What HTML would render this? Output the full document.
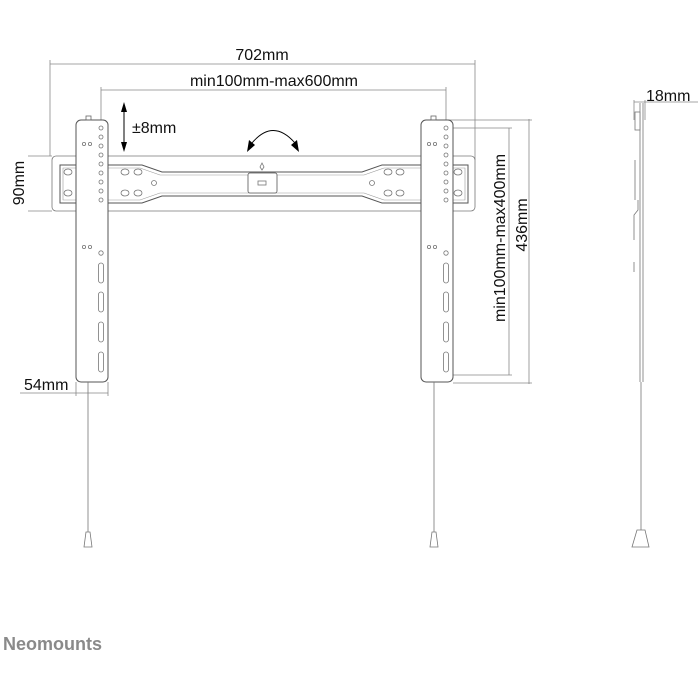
<!DOCTYPE html>
<html><head><style>
html,body{margin:0;padding:0;background:#fff;}
svg{display:block;font-family:"Liberation Sans","DejaVu Sans",sans-serif;}
</style></head><body>
<svg width="700" height="700" viewBox="0 0 700 700" xmlns="http://www.w3.org/2000/svg">
<defs>
<g id="arm">
  <rect x="0" y="0" width="32" height="262" rx="5" fill="#fff" stroke="#555" stroke-width="1"/>
  <rect x="10" y="-4" width="5" height="4" fill="none" stroke="#666" stroke-width="0.8"/>
  <g fill="none" stroke="#777" stroke-width="0.8">
    <circle cx="25" cy="8" r="2"/><circle cx="25" cy="17" r="2"/><circle cx="25" cy="26" r="2"/>
    <circle cx="25" cy="35" r="2"/><circle cx="25" cy="44" r="2"/><circle cx="25" cy="53" r="2"/>
    <circle cx="25" cy="62" r="2"/><circle cx="25" cy="71" r="2"/><circle cx="25" cy="80" r="2"/>
    <circle cx="8" cy="24" r="1.6"/><circle cx="14" cy="24" r="1.6"/>
    <circle cx="8" cy="127" r="1.6"/><circle cx="14" cy="127" r="1.6"/>
    <circle cx="25" cy="133" r="2.2"/>
    <rect x="22.5" y="143" width="5" height="20" rx="2.5"/>
    <rect x="22.5" y="172" width="5" height="20" rx="2.5"/>
    <rect x="22.5" y="202" width="5" height="20" rx="2.5"/>
    <rect x="22.5" y="232" width="5" height="20" rx="2.5"/>
  </g>
</g>
</defs>
<g stroke="#888" stroke-width="0.8" fill="none">
  <line x1="50" y1="64" x2="475" y2="64"/>
  <line x1="50" y1="60" x2="50" y2="156"/>
  <line x1="475" y1="60" x2="475" y2="160"/>
  <line x1="101" y1="90" x2="446" y2="90"/>
  <line x1="101" y1="87" x2="101" y2="122"/>
  <line x1="446" y1="87" x2="446" y2="122"/>
  <line x1="28" y1="156" x2="52" y2="156"/>
  <line x1="28" y1="211" x2="52" y2="211"/>
  <line x1="446" y1="120" x2="532" y2="120"/>
  <line x1="446" y1="128" x2="512" y2="128"/>
  <line x1="529" y1="119" x2="529" y2="384"/>
  <line x1="509" y1="128" x2="509" y2="375"/>
  <line x1="446" y1="375" x2="512" y2="375"/>
  <line x1="453" y1="383" x2="532" y2="383"/>
  <line x1="20" y1="393" x2="108" y2="393"/>
  <line x1="76" y1="382" x2="76" y2="396"/>
  <line x1="108" y1="382" x2="108" y2="396"/>
  <line x1="634" y1="102" x2="698" y2="102"/>
  <line x1="634" y1="100" x2="634" y2="120"/>
  <line x1="645" y1="100" x2="645" y2="120"/>
</g>
<rect x="52" y="156" width="423" height="55" rx="4" fill="#fff" stroke="#777" stroke-width="0.8"/>
<path d="M60 165 H142 L162 172 H362 L382 165 H468 V203 H382 L362 196 H162 L142 203 H60 Z" fill="none" stroke="#555" stroke-width="1"/>
<path d="M63 168 H140 L160 175 H364 L384 168 H465 V200 H384 L364 193 H160 L140 200 H63 Z" fill="none" stroke="#999" stroke-width="0.6"/>
<g fill="none" stroke="#777" stroke-width="0.8">
  <ellipse cx="68" cy="172" rx="4" ry="3"/><ellipse cx="68" cy="193" rx="4" ry="3"/>
  <ellipse cx="125" cy="172" rx="4" ry="3"/><ellipse cx="138" cy="172" rx="4" ry="3"/>
  <ellipse cx="125" cy="193" rx="4" ry="3"/><ellipse cx="138" cy="193" rx="4" ry="3"/>
  <circle cx="154" cy="183" r="2.5"/><circle cx="372" cy="183" r="2.5"/>
  <ellipse cx="388" cy="172" rx="4" ry="3"/><ellipse cx="400" cy="172" rx="4" ry="3"/>
  <ellipse cx="388" cy="193" rx="4" ry="3"/><ellipse cx="400" cy="193" rx="4" ry="3"/>
  <ellipse cx="458" cy="172" rx="4" ry="3"/><ellipse cx="458" cy="193" rx="4" ry="3"/>
  <rect x="248" y="173" width="29" height="20" rx="2" stroke="#555" fill="#fff"/>
  <rect x="258" y="181" width="8" height="4"/>
  <path d="M262 163 l-2 4 l2 3 l2 -3 Z"/>
</g>
<use href="#arm" x="76" y="120"/>
<use href="#arm" x="421" y="120"/>
<line x1="124" y1="108" x2="124" y2="146" stroke="#000" stroke-width="1"/>
<path d="M124 102 L121 112 L127 112 Z M124 152 L121 142 L127 142 Z" fill="#000"/>
<path d="M252 143 Q273 118 295 143" fill="none" stroke="#000" stroke-width="0.9"/>
<path d="M247 152 L249 140 L255 145 Z M299 152 L297 140 L291 145 Z" fill="#000"/>
<g stroke="#777" stroke-width="0.8" fill="#fff">
  <line x1="88" y1="382" x2="88" y2="532"/>
  <line x1="434" y1="382" x2="434" y2="532"/>
  <path d="M86 532 H90 L92 547 H84 Z"/>
  <path d="M432 532 H436 L438 547 H430 Z"/>
  <line x1="640" y1="103" x2="640" y2="382" />
  <line x1="643" y1="103" x2="643" y2="382"/>
  <rect x="635" y="112" width="5" height="18"/>
  <path d="M635 160 V200 M638 200 V210 L634 215 V240 M634 262 V272"/>
  <line x1="641" y1="382" x2="641" y2="530"/>
  <path d="M637 530 H645 L649 547 H632 Z"/>
</g>
<g fill="#111" font-size="16">
  <text x="262" y="60" text-anchor="middle">702mm</text>
  <text x="274" y="86" text-anchor="middle">min100mm-max600mm</text>
  <text x="132" y="133">±8mm</text>
  <text x="24" y="390">54mm</text>
  <text x="646" y="101">18mm</text>
  <text transform="translate(24,183) rotate(-90)" text-anchor="middle">90mm</text>
  <text transform="translate(505,238) rotate(-90)" text-anchor="middle">min100mm-max400mm</text>
  <text transform="translate(527,225) rotate(-90)" text-anchor="middle">436mm</text>
</g>
<text x="3" y="650" font-size="18" font-weight="bold" fill="#8a8a8a">Neomounts</text>
</svg>
</body></html>
